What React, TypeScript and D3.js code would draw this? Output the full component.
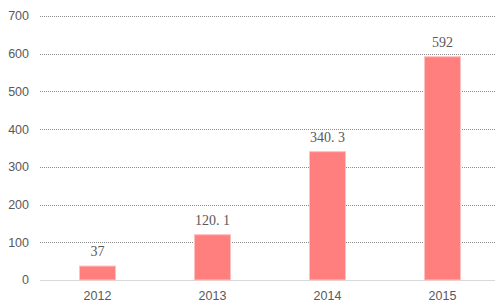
import React from "react";
import * as d3 from "d3";

const categories = ["2012", "2013", "2014", "2015"];
const values = [37, 120.1, 340.3, 592];
const labels = ["37", "120. 1", "340. 3", "592"];
const yTicks = [0, 100, 200, 300, 400, 500, 600, 700];

export default function App() {
  const W = 498, H = 305;
  const x = d3.scaleBand<string>().domain(categories).range([40, 500]).paddingInner(0.687).paddingOuter(0.3435);
  const y = d3.scaleLinear().domain([0, 700]).range([280, 16]);
  const gridLeft = 40, gridRight = 495;
  return (
    <svg width={W} height={H} style={{ position: "absolute", left: 0, top: 0, background: "#fff" }}>
      {yTicks.filter(t => t > 0).map(t => (
        <line key={t} x1={gridLeft} x2={gridRight} y1={Math.round(y(t)) + 0.5} y2={Math.round(y(t)) + 0.5}
          stroke="#8c8c8c" strokeWidth={1} strokeDasharray="1,1" />
      ))}
      <line x1={gridLeft} x2={gridRight} y1={280.5} y2={280.5} stroke="#d9d9d9" strokeWidth={1} />
      {yTicks.map(t => (
        <text key={t} x={29} y={y(t)} dy="0.35em" textAnchor="end" fontFamily="Liberation Sans, Arial, sans-serif"
          fontSize={12.5} fill="#595959">{t}</text>
      ))}
      {categories.map((c, i) => (
        <g key={c}>
          <rect x={x(c)!} y={y(values[i])} width={x.bandwidth()} height={y(0) - y(values[i])}
            fill="#ff7f7f" stroke="#ffc0c0" strokeWidth={1} />
          <text x={x(c)! + x.bandwidth() / 2} y={y(values[i]) - 10} textAnchor="middle"
            fontFamily="Liberation Serif, serif" fontSize={14} fill="#595959">{labels[i]}</text>
          <text x={x(c)! + x.bandwidth() / 2} y={300} textAnchor="middle"
            fontFamily="Liberation Sans, Arial, sans-serif" fontSize={12.5} fill="#595959">{c}</text>
        </g>
      ))}
    </svg>
  );
}
